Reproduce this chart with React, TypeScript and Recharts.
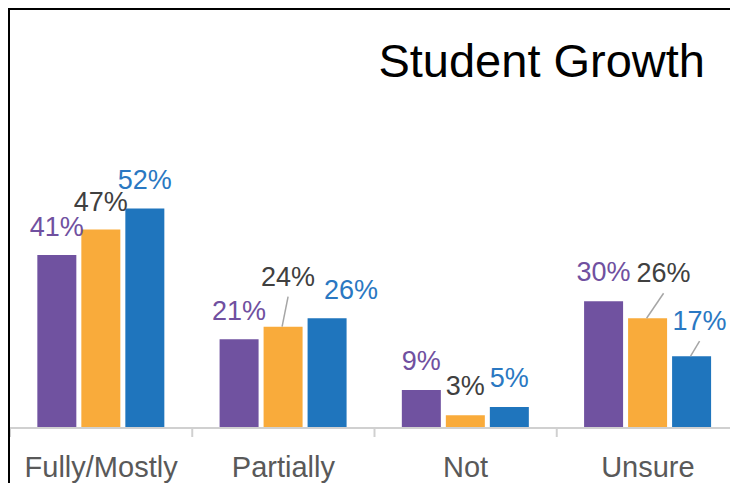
import React from "react";
import { BarChart, Bar, XAxis, YAxis, LabelList } from "recharts";

// Data
const categories = ["Fully/Mostly", "Partially", "Not", "Unsure"];
const seriesA = [41, 21, 9, 30];
const seriesB = [47, 24, 3, 26];
const seriesC = [52, 26, 5, 17];

const data = categories.map((name, i) => ({
  name,
  a: seriesA[i],
  b: seriesB[i],
  c: seriesC[i],
}));

const FONT = "'Liberation Sans', Arial, sans-serif";
const CHART_W = 729;
const CHART_H = 478;
const AXIS_H = 60;
const BAND = CHART_W / categories.length;

// label nudges [dx, dy] relative to bar top centre (Excel-style manual placement)
const nudgeA = [[0, -19], [0, -19], [0, -20], [0, -20]];
const nudgeB = [[0, -19], [5, -41], [0, -20], [16, -36]];
const nudgeC = [[0, -19], [24, -19], [0, -20], [8, -26]];

const makeLabel = (color: string, nudges: number[][]) => (props: any) => {
  const { x, y, width, value, index } = props;
  const cx = Number(x) + Number(width) / 2;
  const [dx, dy] = nudges[index] || [0, -19];
  const tx = cx + dx;
  const ty = Number(y) + dy;
  return (
    <g>
      {dy < -25 && (
        <line x1={cx - 1} y1={Number(y)} x2={tx} y2={ty + 11} stroke="#a6a6a6" strokeWidth={1.5} />
      )}
      <text x={tx} y={ty} textAnchor="middle" fill={color} fontSize={27} fontFamily={FONT}>
        {value}%
      </text>
    </g>
  );
};

const CategoryTick = (props: any) => {
  const { x, y, payload, index } = props;
  const left = x - BAND / 2;
  return (
    <g>
      <line x1={left} y1={y} x2={left} y2={y + 9} stroke="#d0d0d0" strokeWidth={2} />
      {index === categories.length - 1 && (
        <line x1={x + BAND / 2} y1={y} x2={x + BAND / 2} y2={y + 9} stroke="#d0d0d0" strokeWidth={2} />
      )}
      <text x={x} y={y + 49} textAnchor="middle" fill="#595959" fontSize={29} fontFamily={FONT}>
        {payload.value}
      </text>
    </g>
  );
};

export default function App() {
  return (
    <div
      style={{
        position: "absolute",
        left: 8,
        top: 8,
        width: 720,
        height: 473,
        borderTop: "2px solid #000",
        borderLeft: "2px solid #000",
        overflow: "hidden",
        background: "#fff",
      }}
    >
      <BarChart
        width={CHART_W}
        height={CHART_H}
        data={data}
        margin={{ top: 0, right: 0, bottom: 0, left: 0 }}
        barCategoryGap="15%"
        barGap={5}
      >
        <XAxis
          dataKey="name"
          height={AXIS_H}
          tickLine={false}
          tickSize={0}
          tickMargin={0}
          axisLine={{ stroke: "#d0d0d0", strokeWidth: 2 }}
          tick={<CategoryTick />}
          interval={0}
        />
        <YAxis hide domain={[0, 99]} />
        <Bar dataKey="a" fill="#7052a0" isAnimationActive={false}>
          <LabelList dataKey="a" content={makeLabel("#7050a0", nudgeA)} />
        </Bar>
        <Bar dataKey="b" fill="#f9ab3b" isAnimationActive={false}>
          <LabelList dataKey="b" content={makeLabel("#404040", nudgeB)} />
        </Bar>
        <Bar dataKey="c" fill="#1f75bd" isAnimationActive={false}>
          <LabelList dataKey="c" content={makeLabel("#2a78c2", nudgeC)} />
        </Bar>
      </BarChart>
      <svg width={720} height={100} style={{ position: "absolute", left: 0, top: 0 }}>
        <text x={695} y={67} textAnchor="end" fontSize={47} fontFamily={FONT} fill="#000">
          Student Growth
        </text>
      </svg>
    </div>
  );
}
